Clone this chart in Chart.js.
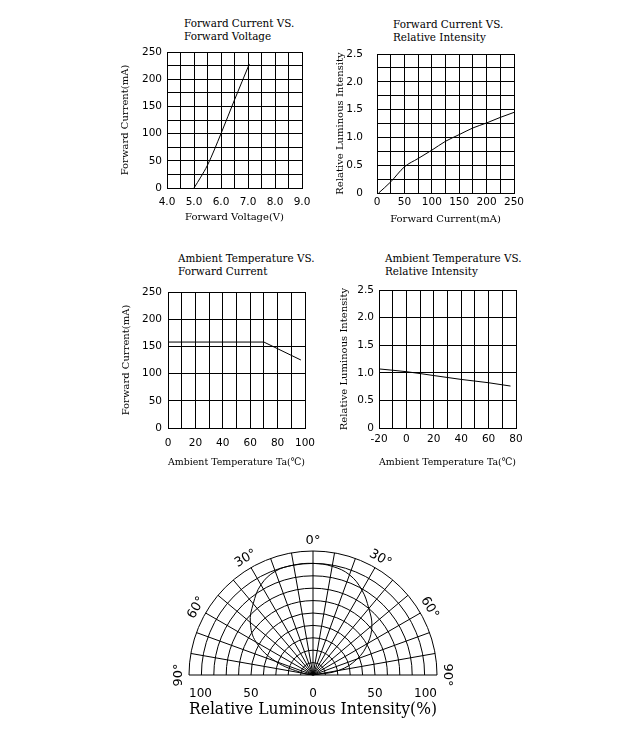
<!DOCTYPE html>
<html>
<head>
<meta charset="utf-8">
<script src="https://cdn.jsdelivr.net/npm/chart.js@4.4.1/dist/chart.umd.min.js"></script>
<style>
  body { margin: 0; background: #fff; width: 625px; height: 741px; position: relative; overflow: hidden; }
  canvas { position: absolute; }
  .title { position: absolute; font-family: "DejaVu Serif"; font-size: 10.4px; line-height: 13px; color: #000; white-space: nowrap; }
</style>
</head>
<body>
<div class="title" style="left:184px;top:17px">Forward Current VS.<br>Forward Voltage</div>
<div class="title" style="left:393px;top:18px">Forward Current VS.<br>Relative Intensity</div>
<div class="title" style="left:178px;top:252px">Ambient Temperature VS.<br>Forward Current</div>
<div class="title" style="left:385px;top:252px">Ambient Temperature VS.<br>Relative Intensity</div>
<canvas id="c1"></canvas>
<canvas id="c2"></canvas>
<canvas id="c3"></canvas>
<canvas id="c4"></canvas>
<canvas id="c5"></canvas>
<script>
// forward voltage (V) -> forward current (mA)
const fvVoltage = [5.0, 5.25, 5.5, 6.0, 6.5, 7.05];
const fvCurrent = [0, 20, 42, 100, 162, 228];

// forward current (mA) -> relative intensity
const fiCurrent = [3, 25, 50, 75, 100, 125, 150, 175, 200, 225, 250];
const fiIntensity = [0, 0.2, 0.47, 0.62, 0.77, 0.93, 1.05, 1.17, 1.26, 1.36, 1.45];

// ambient temperature (C) -> forward current (mA)
const atTemp = [0, 70, 97];
const atCurrent = [158, 158, 125];

// ambient temperature (C) -> relative intensity
const arTemp = [-20, 0, 20, 40, 60, 76];
const arIntensity = [1.07, 1.02, 0.95, 0.88, 0.82, 0.76];

// radiation pattern: angle (deg) -> relative intensity (%)
const polarAngle = [-90, -80, -70, -60, -50, -40, -30, -20, -10, 0, 10, 20, 30, 40, 50, 60, 70, 80, 90];
const polarValue = [0, 8, 32, 53, 66, 75, 84, 89, 90, 90, 89, 86, 79, 70, 62, 51, 38, 21, 0];

const polarRings = [10, 20, 30, 40, 50, 60, 70, 80, 90, 100];
const polarSpokes = [-90, -80, -70, -60, -50, -40, -30, -20, -10, 0, 10, 20, 30, 40, 50, 60, 70, 80, 90];
const polarAngleLabels = [-90, -60, -30, 0, 30, 60, 90];
const polarTicks = [-100, -50, 0, 50, 100];

const tickFont = { family: "DejaVu Sans", size: 10.5 };
const axisFont = { family: "DejaVu Serif", size: 10 };

const nearly = (v, step) => Math.abs(v / step - Math.round(v / step)) < 1e-6;

function smallChart(id, box, pad, cfg) {
  const cv = document.getElementById(id);
  cv.style.left = (box.l - pad.l) + "px";
  cv.style.top = (box.t - pad.t) + "px";
  cv.width = box.r - box.l + pad.l + pad.r;
  cv.height = box.b - box.t + pad.t + pad.b;

  return new Chart(cv, {
    type: "scatter",
    data: {
      datasets: [
        {
          data: cfg.xs.map((x, i) => ({ x, y: cfg.ys[i] })),
          showLine: true,
          borderColor: "#000",
          borderWidth: 1,
          pointRadius: 0,
          tension: cfg.smooth ? 0.4 : 0,
          cubicInterpolationMode: cfg.smooth ? "monotone" : "default",
        },
      ],
    },
    options: {
      responsive: false,
      animation: false,
      layout: { autoPadding: false, padding: { left: 0, top: pad.t, right: pad.r, bottom: 0 } },
      plugins: { legend: { display: false }, tooltip: { enabled: false } },
      scales: {
        x: {
          type: "linear",
          min: cfg.xMin,
          max: cfg.xMax,
          afterFit: (s) => { s.height = pad.b; },
          grid: { color: "#000", lineWidth: 1, drawTicks: false },
          border: { color: "#000", width: 1 },
          ticks: {
            stepSize: cfg.xStep,
            autoSkip: false,
            maxRotation: 0,
            padding: cfg.xTickPad,
            font: tickFont,
            color: "#000",
            callback: cfg.xLabel,
          },
          title: {
            display: true,
            text: cfg.xTitle,
            font: axisFont,
            color: "#000",
            padding: { top: 0, bottom: cfg.xTitlePad },
          },
        },
        y: {
          type: "linear",
          min: cfg.yMin,
          max: cfg.yMax,
          afterFit: (s) => { s.width = pad.l; },
          grid: { color: "#000", lineWidth: 1, drawTicks: false },
          border: { color: "#000", width: 1 },
          ticks: {
            stepSize: cfg.yStep,
            autoSkip: false,
            padding: cfg.yTickPad,
            font: tickFont,
            color: "#000",
            callback: cfg.yLabel,
          },
          title: {
            display: true,
            text: cfg.yTitle,
            font: axisFont,
            color: "#000",
            padding: { top: cfg.yTitlePad, bottom: 0 },
          },
        },
      },
    },
  });
}

smallChart("c1", { l: 167, t: 52, r: 302, b: 188 }, { l: 57, t: 25, r: 30, b: 40 }, {
  xs: fvVoltage, ys: fvCurrent, smooth: true,
  xMin: 4, xMax: 9, xStep: 0.5, yMin: 0, yMax: 250, yStep: 25,
  xLabel: (v) => (nearly(v, 1) ? v.toFixed(1) : ""),
  yLabel: (v) => (nearly(v, 50) ? String(v) : ""),
  xTitle: "Forward Voltage(V)", yTitle: "Forward Current(mA)",
  xTickPad: 8, yTickPad: 5, xTitlePad: 5, yTitlePad: 9,
});

smallChart("c2", { l: 377, t: 54, r: 514, b: 193 }, { l: 47, t: 25, r: 30, b: 40 }, {
  xs: fiCurrent, ys: fiIntensity, smooth: true,
  xMin: 0, xMax: 250, xStep: 25, yMin: 0, yMax: 2.5, yStep: 0.25,
  xLabel: (v) => (nearly(v, 50) ? String(v) : ""),
  yLabel: (v) => (nearly(v, 0.5) ? (v === 0 ? "0" : v.toFixed(1)) : ""),
  xTitle: "Forward Current(mA)", yTitle: "Relative Luminous Intensity",
  xTickPad: 3, yTickPad: 14, xTitlePad: 8, yTitlePad: 4,
});

smallChart("c3", { l: 168, t: 292, r: 305, b: 428 }, { l: 58, t: 25, r: 30, b: 45 }, {
  xs: atTemp, ys: atCurrent, smooth: false,
  xMin: 0, xMax: 100, xStep: 10, yMin: 0, yMax: 250, yStep: 50,
  xLabel: (v) => (nearly(v, 20) ? String(v) : ""),
  yLabel: (v) => String(v),
  xTitle: "Ambient Temperature Ta(\u2103)", yTitle: "Forward Current(mA)",
  xTickPad: 9, yTickPad: 6, xTitlePad: 5, yTitlePad: 10,
});

smallChart("c4", { l: 379, t: 290, r: 516, b: 428 }, { l: 49, t: 25, r: 30, b: 45 }, {
  xs: arTemp, ys: arIntensity, smooth: true,
  xMin: -20, xMax: 80, xStep: 10, yMin: 0, yMax: 2.5, yStep: 0.5,
  xLabel: (v) => (nearly(v, 20) ? String(v) : ""),
  yLabel: (v) => (v === 0 ? "0" : v.toFixed(1)),
  xTitle: "Ambient Temperature Ta(\u2103)", yTitle: "Relative Luminous Intensity",
  xTickPad: 5, yTickPad: 5, xTitlePad: 5, yTitlePad: 8,
});

const polarGrid = {
  id: "polarGrid",
  beforeDatasetsDraw(chart) {
    const { ctx, scales: { x, y } } = chart;
    const cx = x.getPixelForValue(0);
    const cy = y.getPixelForValue(0);
    const k = x.getPixelForValue(1) - cx;
    ctx.save();
    ctx.strokeStyle = "#000";
    ctx.lineWidth = 1;
    polarRings.forEach((r) => {
      ctx.beginPath();
      ctx.arc(cx, cy, r * k, Math.PI, 2 * Math.PI);
      ctx.stroke();
    });
    polarSpokes.forEach((a) => {
      const t = (a * Math.PI) / 180;
      ctx.beginPath();
      ctx.moveTo(cx, cy);
      ctx.lineTo(cx + 100 * k * Math.sin(t), cy - 100 * k * Math.cos(t));
      ctx.stroke();
    });
    ctx.fillStyle = "#000";
    ctx.font = '13px "DejaVu Sans"';
    ctx.textAlign = "center";
    ctx.textBaseline = "middle";
    polarAngleLabels.forEach((a) => {
      const t = (a * Math.PI) / 180;
      ctx.save();
      ctx.translate(cx + 108.5 * k * Math.sin(t), cy - 108.5 * k * Math.cos(t));
      ctx.rotate(t);
      ctx.fillText(Math.abs(a) + "\u00b0", 0, 0);
      ctx.restore();
    });
    ctx.restore();
  },
};

(function () {
  const cv = document.getElementById("c5");
  cv.style.left = "160px";
  cv.style.top = "520px";
  cv.width = 310;
  cv.height = 221;

  new Chart(cv, {
    type: "scatter",
    data: {
      datasets: [
        {
          data: polarAngle.map((a, i) => ({
            x: polarValue[i] * Math.sin((a * Math.PI) / 180),
            y: polarValue[i] * Math.cos((a * Math.PI) / 180),
          })),
          showLine: true,
          borderColor: "#000",
          borderWidth: 1,
          pointRadius: 0,
          tension: 0.4,
        },
      ],
    },
    options: {
      responsive: false,
      animation: false,
      layout: { autoPadding: false, padding: { left: 29, top: 31, right: 33, bottom: 16 } },
      plugins: { legend: { display: false }, tooltip: { enabled: false } },
      scales: {
        x: {
          type: "linear",
          min: -100,
          max: 100,
          afterFit: (s) => { s.height = 50; },
          afterBuildTicks: (s) => { s.ticks = polarTicks.map((v) => ({ value: v })); },
          grid: { display: false },
          border: { display: false },
          ticks: {
            autoSkip: false,
            maxRotation: 0,
            align: "inner",
            padding: 3.5,
            font: { family: "DejaVu Sans", size: 12 },
            color: "#000",
            callback: (v) => String(Math.abs(v)),
          },
          title: {
            display: true,
            text: "Relative Luminous Intensity(%)",
            font: { family: "DejaVu Serif", size: 17 },
            color: "#000",
            padding: { top: 0, bottom: 5 },
          },
        },
        y: { type: "linear", min: 0, max: 100, display: false },
      },
    },
    plugins: [polarGrid],
  });
})();
</script>
</body>
</html>
